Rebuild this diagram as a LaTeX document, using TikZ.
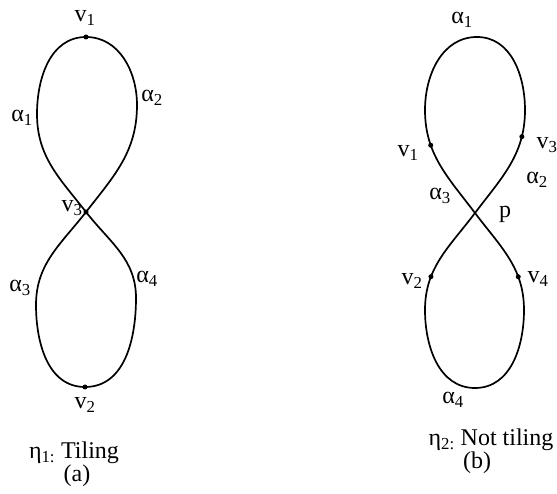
\documentclass[tikz,border=0pt]{standalone}
\usepackage{fontspec}
\setmainfont{Liberation Serif}
\begin{document}
\begin{tikzpicture}[x=1pt,y=1pt,
  curve/.style={line width=1.7pt},
  lbl/.style={font=\fontsize{24}{28}\selectfont, inner sep=0pt},
  dotmark/.style={circle, fill, inner sep=0pt, minimum size=5pt}]
\useasboundingbox (0,0) rectangle (557,493);
% ---------- (a) ----------
\coordinate (aC) at (86,281);
\coordinate (aT) at (86,456);
\coordinate (aL) at (37,379);
\coordinate (aR) at (137,388);
\coordinate (aB) at (85,106);
\coordinate (aL2) at (36,188);
\coordinate (aR2) at (136,195);
\draw[curve] (aC) to[out=128,in=-90] (aL) to[out=90,in=180] (aT)
  to[out=0,in=90] (aR) to[out=-90,in=52] (aC)
  to[out=-52,in=90] (aR2) to[out=-90,in=0] (aB)
  to[out=180,in=-90] (aL2) to[out=90,in=-128] (aC);
\node[dotmark] (adv1) at (aT) {};
\node[dotmark] (adv3) at (aC) {};
\node[dotmark] (adv2) at (aB) {};
\node[lbl] (av1) at (85,475) {v\textsubscript{1}};
\node[lbl] (aa1) at (22,375) {α\textsubscript{1}};
\node[lbl] (aa2) at (152,395) {α\textsubscript{2}};
\node[lbl] (av3) at (72,285) {v\textsubscript{3}};
\node[lbl] (aa3) at (20,205) {α\textsubscript{3}};
\node[lbl] (aa4) at (147,214) {α\textsubscript{4}};
\node[lbl] (av2) at (85,88) {v\textsubscript{2}};
\node[lbl] (atitle) at (74,40) {η\textsubscript{1:} Tiling};
\node[lbl] (acap) at (77,17) {(a)};
% ---------- (b) ----------
\coordinate (bC) at (475,280);
\coordinate (bT) at (477,456);
\coordinate (bL) at (425,383);
\coordinate (bR) at (525,383);
\coordinate (bB) at (475,105);
\coordinate (bL2) at (425,183);
\coordinate (bR2) at (524,183);
\draw[curve] (bC) to[out=127,in=-90] coordinate[pos=0.7] (bpv1) (bL)
  to[out=90,in=180] (bT)
  to[out=0,in=90] (bR) to[out=-90,in=53] coordinate[pos=0.22] (bpv3) (bC)
  to[out=-53,in=90] coordinate[pos=0.7] (bpv4) (bR2) to[out=-90,in=0] (bB)
  to[out=180,in=-90] (bL2) to[out=90,in=-127] coordinate[pos=0.3] (bpv2) (bC);
\node[dotmark] (bdv1) at (bpv1) {};
\node[dotmark] (bdv3) at (bpv3) {};
\node[dotmark] (bdv2) at (bpv2) {};
\node[dotmark] (bdv4) at (bpv4) {};
\node[lbl] (ba1) at (462,473) {α\textsubscript{1}};
\node[lbl] (bv1) at (408,340) {v\textsubscript{1}};
\node[lbl] (bv3) at (547,348) {v\textsubscript{3}};
\node[lbl] (ba2) at (537,313) {α\textsubscript{2}};
\node[lbl] (ba3) at (440,297) {α\textsubscript{3}};
\node[lbl] (bp) at (505,279) {p};
\node[lbl] (bv2) at (412,212) {v\textsubscript{2}};
\node[lbl] (bv4) at (538,214) {v\textsubscript{4}};
\node[lbl] (ba4) at (453,93) {α\textsubscript{4}};
\node[lbl] (btitle) at (491,53) {η\textsubscript{2:} Not tiling};
\node[lbl] (bcap) at (477,30) {(b)};
\end{tikzpicture}
\end{document}
